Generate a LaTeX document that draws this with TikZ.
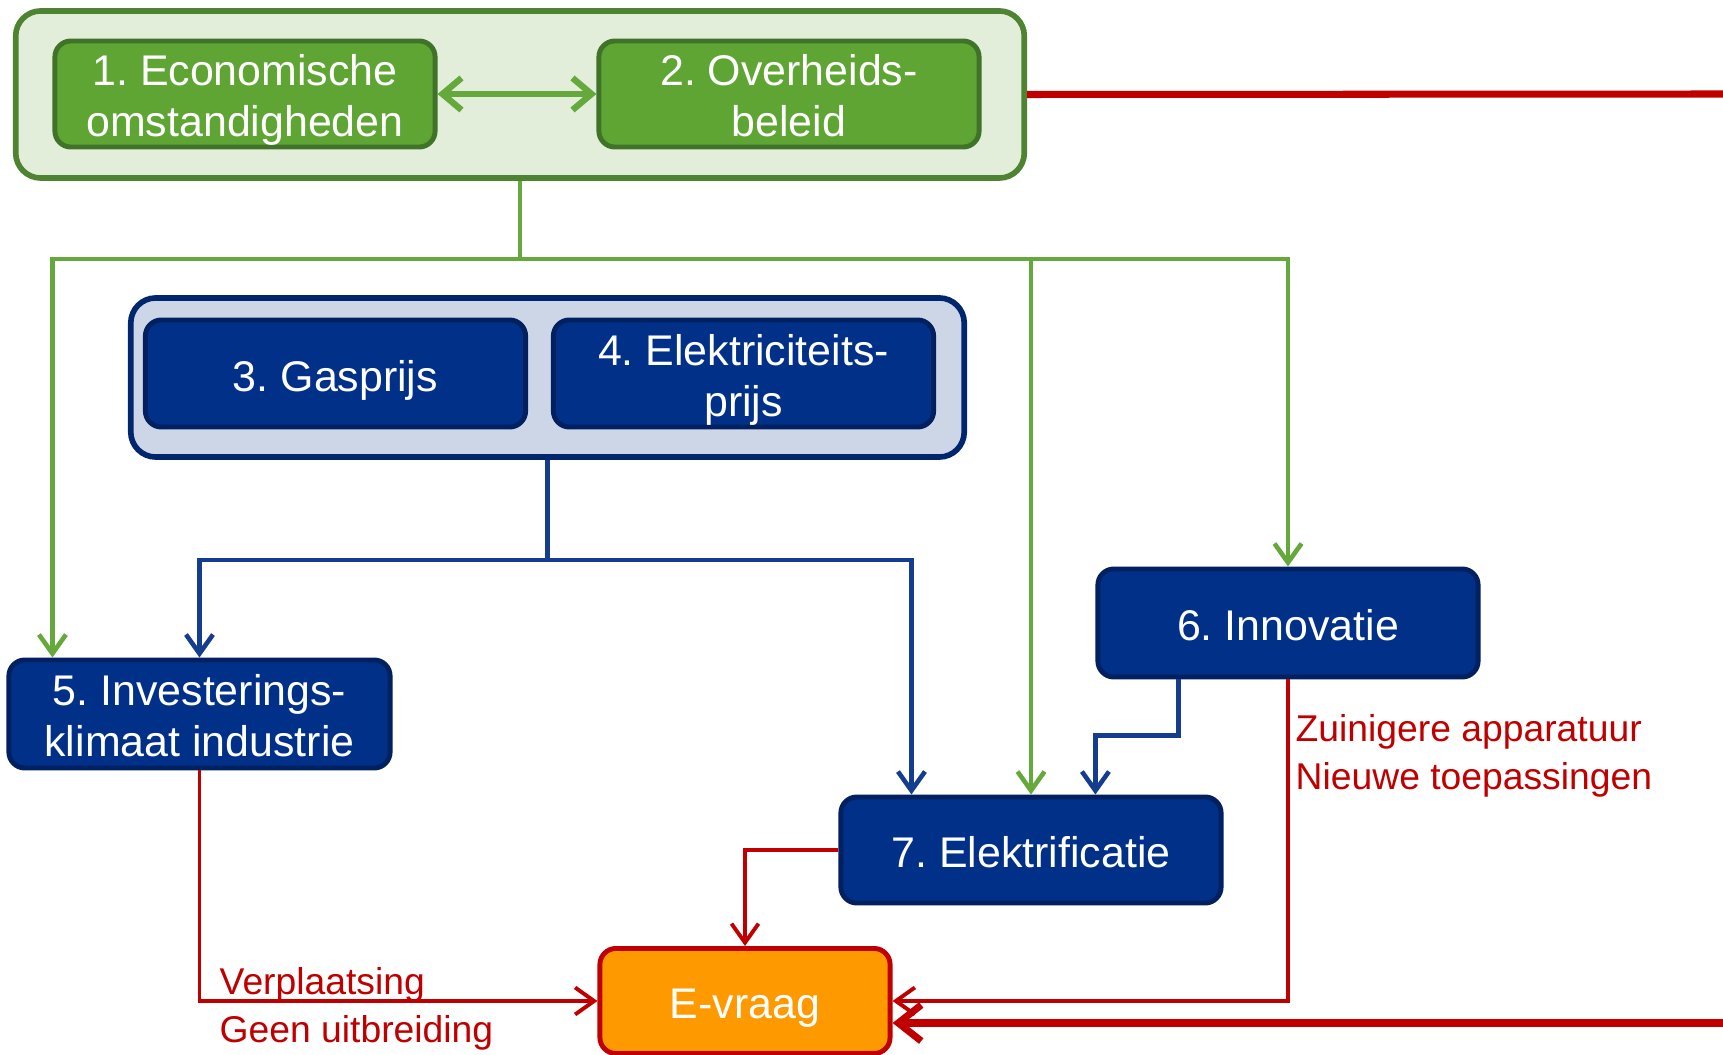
\documentclass[tikz,border=0pt]{standalone}
\usepackage{fontspec}
\setmainfont{Liberation Sans}
\usepackage{xcolor}
\usepackage{tikz}
\usetikzlibrary{arrows.meta}

\definecolor{grfill}{HTML}{5FA534}
\definecolor{grdraw}{HTML}{41722A}
\definecolor{grgroup}{HTML}{E2EED9}
\definecolor{grgroupdraw}{HTML}{4E8431}
\definecolor{grline}{HTML}{65A83C}
\definecolor{blfill}{HTML}{003087}
\definecolor{bldraw}{HTML}{00205F}
\definecolor{blgroup}{HTML}{CDD6E6}
\definecolor{blgroupdraw}{HTML}{00266E}
\definecolor{blline}{HTML}{143C8F}
\definecolor{effect}{HTML}{C00000}
\definecolor{demandfill}{HTML}{FF9900}

\begin{document}
\frenchspacing
\begin{tikzpicture}[x=0.01cm,y=-0.01cm,
  greengroup/.style={rectangle,rounded corners=0.25cm,draw=grgroupdraw,line width=1.6pt,fill=grgroup,minimum width=10.08cm,minimum height=1.67cm},
  bluegroup/.style={rectangle,rounded corners=0.25cm,draw=blgroupdraw,line width=1.6pt,fill=blgroup,minimum width=8.33cm,minimum height=1.59cm},
  greenbox/.style={rectangle,rounded corners=0.16cm,draw=grdraw,line width=1.4pt,fill=grfill,minimum width=3.8cm,minimum height=1.06cm,inner ysep=0pt,text=white,align=center,font=\fontsize{12.2}{14.6}\selectfont,text height=10pt,text depth=0pt},
  twolines/.style={text height=24.4pt,text depth=0pt},
  bluebox/.style={greenbox,draw=bldraw,fill=blfill},
  demand/.style={greenbox,draw=effect,fill=demandfill,minimum width=2.9cm,minimum height=1.05cm},
  note/.style={text=effect,align=left,inner sep=0pt,font=\fontsize{10.6}{13.6}\selectfont},
  greenline/.style={draw=grline,line width=1.3pt},
  greenarrow/.style={greenline,-{Straight Barb[length=1.9mm,width=2.7mm]}},
  blueline/.style={draw=blline,line width=1.3pt},
  bluearrow/.style={blueline,-{Straight Barb[length=1.9mm,width=2.7mm]}},
  redarrow/.style={draw=effect,line width=1.1pt,-{Straight Barb[length=1.9mm,width=2.7mm]}},
  thickred/.style={draw=effect,line width=2pt}
]
\useasboundingbox (0,0) rectangle (1723,1055);

\node[greengroup] (grp1) at (520,94.5) {};
\node[greenbox,twolines] (box1) at (245,94) {1. Economische\\omstandigheden};
\node[greenbox,twolines] (box2) at (789,94) {2. Overheids-\\beleid};

\node[bluegroup] (grp2) at (547.5,377.5) {};
\node[bluebox,minimum height=1.07cm] (box3) at (335.5,373.5) {3. Gasprijs};
\node[bluebox,twolines,minimum height=1.07cm] (box4) at (743.5,373.5) {4. Elektriciteits-\\prijs};

\node[bluebox,twolines,minimum width=3.81cm,minimum height=1.08cm] (box5) at (199.5,714) {5. Investerings-\\klimaat industrie};
\node[bluebox,minimum height=1.08cm] (box6) at (1288,623) {6. Innovatie};
\node[bluebox] (box7) at (1031,850) {7. Elektrificatie};
\node[demand] (evraag) at (745,1001) {E-vraag};

\node[note,anchor=west] (lblmove) at (219,1009) {Verplaatsing\\Geen uitbreiding};
\node[note,anchor=west] (lblinno) at (1295,756) {Zuinigere apparatuur\\Nieuwe toepassingen};

\coordinate (gsplit) at (520,259);
\coordinate (bsplit) at (547.5,560);
\coordinate (tright) at (1723,94);
\coordinate (eright) at (1723,1023);

\draw[greenline,line width=1.8pt,{Straight Barb[length=1.9mm,width=3.2mm]}-{Straight Barb[length=1.9mm,width=3.2mm]}] (box1) -- (box2);
\draw[greenline] (grp1.south) -- (gsplit);
\draw[greenarrow] (gsplit) -| ([xshift=0.46cm]box5.north west);
\draw[greenarrow] (gsplit) -| (box7.north);
\draw[greenarrow] (gsplit) -| (box6.north);

\draw[blueline] (grp2.south) -- (bsplit);
\draw[bluearrow] (bsplit) -| (box5.north);
\draw[bluearrow] (bsplit) -| ([xshift=0.73cm]box7.north west);
\draw[bluearrow] ([xshift=0.83cm]box6.south west) -- ++(0,56) -| (box7.north -| box6.west);

\draw[redarrow] (box5.south) |- (evraag.west);
\draw[redarrow] (box7.west) -| (evraag.north);
\draw[redarrow] (box6.south) |- (evraag.east);
\draw[thickred] (grp1.east) -- (tright);
\draw[thickred,-{Straight Barb[length=2.3mm,width=3.6mm]}] (eright) -- (evraag.east |- eright);

\end{tikzpicture}
\end{document}
